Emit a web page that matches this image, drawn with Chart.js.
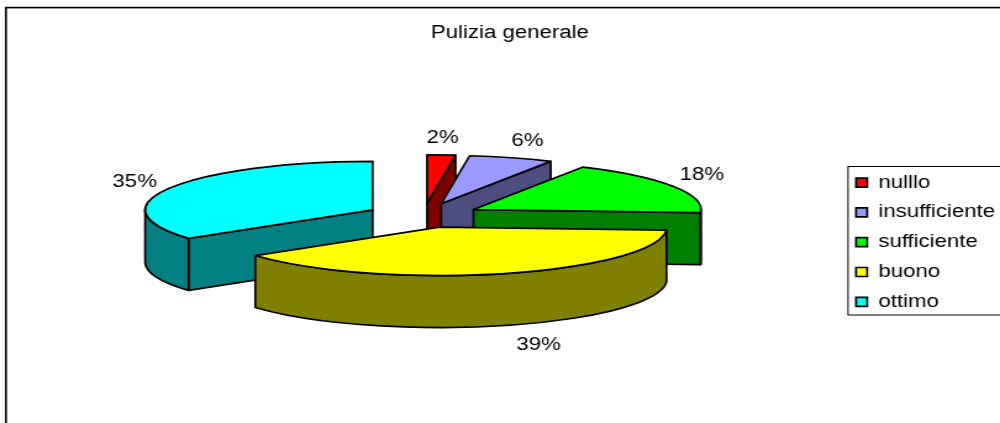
<!DOCTYPE html>
<html>
<head>
<meta charset="utf-8">
<title>Pulizia generale</title>
<script src="https://cdn.jsdelivr.net/npm/chart.js@4/dist/chart.umd.js"></script>
<style>
    html, body { margin: 0; padding: 0; background: #fff; overflow: hidden; }
    /* the original picture is stretched sideways, text included */
    canvas { display: block; width: 1000px !important; height: 423px !important; }
</style>
</head>
<body>
<canvas id="pieChart" width="810" height="423"></canvas>
<script>
const categories = ["nulllo", "insufficiente", "sufficiente", "buono", "ottimo"];
const percentages = [2, 6, 18, 39, 35];
const chartTitle = "Pulizia generale";

const topColors = ["#ff0000", "#9999ff", "#00ff00", "#ffff00", "#00ffff"];
const sideColors = ["#800000", "#4d4d80", "#008000", "#808000", "#008080"];

// label position relative to the rim of its slice
const labelNudges = [[1, -17], [13, -17], [23.5, -11], [29, 19], [-28.5, -6]];

const TILT = 0.263;
const DEPTH = 52;
const FONT = "Liberation Sans";

class Arc3D extends Chart.ArcElement {
    static id = "arc3d";
    static defaults = { sideColor: "#000", depth: DEPTH, tilt: TILT };

    apex() {
        const { x, y, startAngle, endAngle } = this;
        const mid = (startAngle + endAngle) / 2;
        return {
            x: x + Math.cos(mid) * this.options.offset,
            y: y + Math.sin(mid) * this.options.offset * this.options.tilt
        };
    }

    rimPoint() {
        const a = this.apex();
        const mid = (this.startAngle + this.endAngle) / 2;
        const ry = this.outerRadius * this.options.tilt;
        const front = Math.sin(mid) > 0 ? this.options.depth : 0;
        return {
            x: a.x + Math.cos(mid) * this.outerRadius,
            y: a.y + Math.sin(mid) * ry + front
        };
    }

    draw(ctx) {
        const { startAngle, endAngle, outerRadius: r } = this;
        const { backgroundColor, sideColor, borderColor, borderWidth, depth, tilt } = this.options;
        const a = this.apex();
        const ry = r * tilt;

        ctx.save();
        ctx.lineWidth = borderWidth;
        ctx.strokeStyle = borderColor;
        ctx.lineJoin = "round";
        ctx.fillStyle = sideColor;

        const radialWall = angle => {
            const px = a.x + Math.cos(angle) * r;
            const py = a.y + Math.sin(angle) * ry;
            ctx.beginPath();
            ctx.moveTo(a.x, a.y);
            ctx.lineTo(px, py);
            ctx.lineTo(px, py + depth);
            ctx.lineTo(a.x, a.y + depth);
            ctx.closePath();
            ctx.fill();
            ctx.stroke();
        };

        // only the walls that look towards the viewer
        if (Math.cos(startAngle) < -1e-6) radialWall(startAngle);
        if (Math.cos(endAngle) > 1e-6) radialWall(endAngle);

        const from = Math.max(startAngle, 0);
        const to = Math.min(endAngle, Math.PI);
        if (to > from) {
            ctx.beginPath();
            ctx.ellipse(a.x, a.y, r, ry, 0, from, to);
            ctx.ellipse(a.x, a.y + depth, r, ry, 0, to, from, true);
            ctx.closePath();
            ctx.fill();
            ctx.stroke();
        }

        ctx.fillStyle = backgroundColor;
        ctx.beginPath();
        ctx.moveTo(a.x, a.y);
        ctx.ellipse(a.x, a.y, r, ry, 0, startAngle, endAngle);
        ctx.closePath();
        ctx.fill();
        ctx.stroke();
        ctx.restore();
    }
}

class Pie3D extends Chart.PieController {
    static id = "pie3d";
    static defaults = { dataElementType: "arc3d" };

    draw() {
        // back to front
        const arcs = this._cachedMeta.data.slice();
        arcs.sort((p, q) => p.apex().y - q.apex().y);
        arcs.forEach(arc => arc.draw(this._ctx));
    }
}

Chart.register(Arc3D, Pie3D);

const dressing = {
    id: "dressing",
    beforeDraw(chart) {
        const ctx = chart.ctx;
        ctx.save();
        ctx.fillStyle = "#fff";
        ctx.fillRect(0, 0, chart.width, chart.height);
        ctx.strokeStyle = "#000";
        ctx.lineWidth = 1.6;
        ctx.strokeRect(4.8, 7.6, chart.width + 20, chart.height + 20);
        ctx.lineWidth = 1;
        ctx.strokeRect(686.9, 166.5, 140, 148.5);
        ctx.restore();
    },
    afterLayout(chart) {
        const legend = chart.legend;
        legend.left = 681.6;
        legend.right = legend.left + legend.width;
        legend.top = 161.8;
        legend.bottom = legend.top + legend.height;
        chart.titleBlock.left += 70;
        chart.titleBlock.right += 70;
    },
    afterDatasetsDraw(chart) {
        const ctx = chart.ctx;
        const total = percentages.reduce((s, v) => s + v, 0);
        ctx.save();
        ctx.font = "18px '" + FONT + "'";
        ctx.fillStyle = "#000";
        ctx.textAlign = "center";
        ctx.textBaseline = "middle";
        chart.getDatasetMeta(0).data.forEach((arc, i) => {
            const rim = arc.rimPoint();
            const text = Math.round(percentages[i] / total * 100) + "%";
            ctx.fillText(text, rim.x + labelNudges[i][0], rim.y + labelNudges[i][1]);
        });
        ctx.restore();
    }
};

new Chart(document.getElementById("pieChart"), {
    type: "pie3d",
    data: {
        labels: categories,
        datasets: [{
            data: percentages,
            backgroundColor: topColors,
            sideColor: sideColors,
            borderColor: "#000",
            borderWidth: 1.7,
            offset: 46.2,
            radius: 184.3
        }]
    },
    options: {
        responsive: false,
        animation: false,
        events: [],
        layout: { padding: { right: 124, bottom: 35.8 } },
        plugins: {
            title: {
                display: true,
                text: chartTitle,
                color: "#000",
                font: { family: FONT, size: 18, weight: "normal" },
                padding: { top: 22, bottom: 0 }
            },
            legend: {
                position: "chartArea",
                align: "start",
                labels: {
                    color: "#000",
                    font: { family: FONT, size: 18 },
                    boxWidth: 9,
                    boxHeight: 9,
                    padding: 11.8
                }
            },
            tooltip: { enabled: false }
        }
    },
    plugins: [dressing]
});
</script>
</body>
</html>
